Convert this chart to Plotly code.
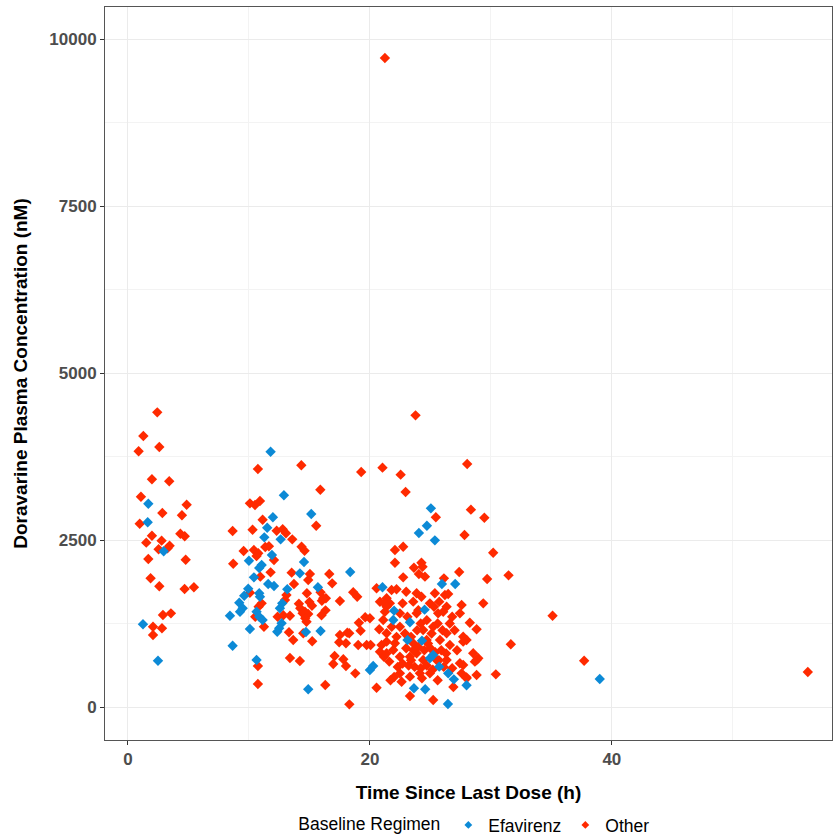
import plotly.graph_objects as go

# Efavirenz (blue) points: time since last dose (h), concentration (nM)
efv_x = [1.68, 1.63, 2.95, 1.24, 2.48,
         11.79, 12.89, 15.15, 11.98, 11.51, 11.27, 12.62, 11.9, 10.0, 11.05, 10.85, 14.55, 14.21, 10.41,
         11.59, 12.07, 15.7, 13.17, 9.94, 10.85, 10.91, 9.61, 12.75, 12.56, 9.2, 9.48, 9.26, 8.43, 10.63,
         10.85, 11.13, 12.7, 12.5, 12.34, 10.08, 14.71, 15.92, 8.65, 10.63, 14.9,
         18.37, 21.04, 22.0, 21.93, 20.0, 20.27,
         25.04, 24.71, 24.05, 25.37, 25.95, 27.05, 24.52, 23.31, 23.11, 24.3, 24.96, 25.23, 25.73, 26.47,
         26.94, 23.64, 24.57, 27.99, 26.45, 39.0]
efv_y = [3043, 2765, 2331, 1238, 693,
         3822, 3169, 2889, 2840, 2684, 2540, 2510, 2275, 2190, 2126, 2081, 2170, 2001, 1941,
         1841, 1811, 1792, 1762, 1771, 1702, 1651, 1666, 1552, 1478, 1561, 1478, 1427, 1367, 1427,
         1352, 1302, 1253, 1178, 1127, 1168, 1123, 1138, 918, 704, 265,
         2021, 1792, 1442, 1302, 554, 614,
         2974, 2714, 2605, 2495, 1841, 1841, 1457, 1268, 1003, 993, 729, 779, 604, 504,
         414, 280, 265, 325, 45, 419]

# Other (red) points
oth_x = [2.42, 1.27, 0.88, 2.59, 1.98, 3.41, 1.07, 4.85, 2.84, 4.46, 0.97, 1.98, 4.33, 4.69, 1.51, 2.78,
         3.44, 2.53, 3.27, 1.68, 4.77, 1.87, 2.59, 4.68, 5.45, 2.89, 3.55, 2.07, 2.81, 2.07,
         10.74, 14.33, 15.9, 10.08, 10.5, 10.91, 15.56, 11.13, 8.65, 10.3, 12.29, 12.79, 13.06, 13.58,
         11.35, 11.65, 9.56, 10.41, 10.77, 10.63, 14.35, 14.6, 8.7, 12.07, 11.79, 13.53, 15.04, 14.9,
         16.64, 10.94, 13.72, 16.88, 10.08, 14.79, 15.92, 16.14, 16.36, 16.03, 17.52, 13.1, 12.98,
         14.13, 15.0, 15.21, 11.05, 10.8, 14.24, 14.44, 14.63, 14.9, 16.33, 16.0, 10.52, 12.37, 12.84,
         13.39, 14.65, 14.76, 11.24, 13.31, 13.66, 14.49, 15.23, 17.52, 18.13, 17.46, 18.02, 13.39,
         14.21, 17.08, 17.8, 16.97, 18.02, 10.74, 10.74, 16.31, 18.3,
         19.28, 21.04, 22.07, 22.07, 18.62, 18.95, 20.55, 21.79, 22.2, 20.83, 21.38, 21.65, 19.61, 20.0,
         19.09, 20.77, 21.1, 19.23, 18.29, 19.03, 19.73, 20.06, 20.96, 21.38, 22.07, 20.83, 21.16,
         21.93, 18.79, 20.55,
         22.54, 28.04, 22.95, 25.45, 28.35, 29.46, 27.82, 22.75, 23.64, 24.26, 24.35, 24.05, 24.55,
         27.38, 22.75, 29.69, 23.0, 26.12, 23.86, 24.26, 25.37, 26.2, 26.47, 21.19, 21.38, 22.7, 23.58,
         24.96, 25.73, 26.34, 27.58, 29.37, 22.48, 21.24, 23.86, 25.64, 26.06, 27.44, 28.26, 28.82,
         21.38, 22.48, 24.4, 25.23, 26.34, 27.71, 23.58, 24.69, 25.79, 26.61, 27.99, 28.54, 21.38,
         22.48, 23.31, 23.86, 24.4, 25.51, 26.34, 27.44, 28.82, 22.48, 23.31, 24.13, 24.96, 27.99,
         28.82, 22.62, 23.31, 25.23,
         23.77, 30.19, 30.41, 31.46, 35.1, 31.65, 37.71, 27.71, 28.96, 28.68, 27.71, 27.58, 27.99,
         21.24, 56.2,
         22.9, 23.4, 23.9, 24.2, 24.7, 25.1, 25.6, 26.0, 23.0, 23.6, 24.0, 24.5, 25.0, 25.4, 25.9, 26.3,
         22.7, 23.2, 23.7, 24.2, 24.7, 25.2, 25.7, 26.1, 26.8, 23.4, 24.8, 22.2, 22.3, 21.6, 21.8, 26.6,
         27.2, 27.0, 23.1, 24.0, 25.3, 26.8, 24.3, 25.6, 26.9, 22.0, 21.7]
oth_y = [4411, 4057, 3828, 3892, 3409, 3379, 3148, 3028, 2904, 2870, 2744, 2564, 2594, 2556, 2460, 2490,
         2415, 2362, 2377, 2216, 2205, 1927, 1807, 1766, 1792, 1377, 1402, 1202, 1178, 1078,
         3563, 3618, 3253, 3049, 3024, 3084, 2714, 2804, 2635, 2654, 2639, 2660, 2600, 2510,
         2395, 2406, 2335, 2350, 2301, 2260, 2400, 2340, 2145, 2200, 2016, 2011, 1991, 1901,
         1991, 1951, 1841, 1851, 1711, 1702, 1717, 1627, 1627, 1591, 1587, 1677, 1602,
         1546, 1572, 1516, 1552, 1502, 1478, 1403, 1427, 1392, 1447, 1373, 1352, 1352, 1373,
         1367, 1328, 1277, 1202, 1118, 1003, 1103, 984, 1078, 1113, 969, 954, 734,
         689, 764, 714, 644, 614, 614, 344, 329, 40,
         3518, 3583, 2350, 2160, 1717, 1651, 1777, 1751, 1762, 1576, 1627, 1552, 1343, 1328,
         1262, 1163, 1302, 1142, 1103, 928, 928, 928, 928, 978, 954, 828, 753,
         853, 504, 289,
         3478, 3638, 3219, 2840, 2954, 2834, 2575, 2400, 2085, 2160, 2100, 1991, 1951,
         2021, 1941, 1916, 1726, 1926, 1702, 1651, 1702, 1677, 1692, 1552, 1502, 1552, 1577,
         1552, 1577, 1502, 1527, 1552, 1402, 1427, 1402, 1402, 1427, 1402, 1262, 1163,
         1103, 1202, 1153, 1202, 1103, 1053, 954, 1003, 1003, 928, 1003, 804, 804,
         753, 753, 804, 704, 704, 704, 654, 704, 504, 454, 504, 504, 444,
         479, 379, 165, 105,
         4366, 2310, 489, 1971, 1367, 939, 693, 978, 729, 679, 629, 504, 429,
         9715, 524,
         1100, 1050, 1150, 1250, 1300, 1100, 1250, 1150, 880, 850, 900, 850, 880, 820, 850, 800,
         650, 620, 600, 580, 620, 560, 700, 600, 580, 700, 950, 1050, 600, 680, 1200, 1250,
         850, 1150, 1350, 1450, 1500, 1350, 430, 400, 300, 450, 400]

x_ticks = [0, 20, 40]
y_ticks = [0, 2500, 5000, 7500, 10000]
y_tick_labels = ["0", "2500", "5000", "7500", "10000"]

BLUE = "#0c8ad6"
RED = "#ff2a00"
FONT = "Liberation Sans"

fig = go.Figure()
fig.add_trace(go.Scatter(x=oth_x, y=oth_y, mode="markers", name="Other", showlegend=False,
                         marker=dict(symbol="diamond", size=8, color=RED, line=dict(width=0))))
fig.add_trace(go.Scatter(x=efv_x, y=efv_y, mode="markers", name="Efavirenz", showlegend=False,
                         marker=dict(symbol="diamond", size=8, color=BLUE, line=dict(width=0))))
# legend-only entries with smaller key symbols
fig.add_trace(go.Scatter(x=[None], y=[None], mode="markers", name="Efavirenz", legendrank=1,
                         marker=dict(symbol="diamond", size=6, color=BLUE, line=dict(width=0))))
fig.add_trace(go.Scatter(x=[None], y=[None], mode="markers", name="Other", legendrank=2,
                         marker=dict(symbol="diamond", size=6, color=RED, line=dict(width=0))))

axis_common = dict(
    showline=True, mirror=True, linecolor="#555555", linewidth=1,
    showgrid=True, gridcolor="#ebebeb", gridwidth=1,
    ticks="outside", ticklen=4, tickcolor="#333333", tickwidth=1,
    tickfont=dict(family=FONT, size=17, color="#4d4d4d", weight="bold"),
    zeroline=False, automargin=False,
)

fig.update_xaxes(
    range=[-1.9, 58.2], tickvals=x_ticks,
    minor=dict(dtick=10, tick0=0, showgrid=True, gridcolor="#f3f3f3", gridwidth=0.6, ticks=""),
    title=dict(text="Time Since Last Dose (h)", standoff=17,
               font=dict(family=FONT, size=19, color="black", weight="bold")),
    **axis_common,
)
fig.update_yaxes(
    range=[-494, 10479], tickvals=y_ticks, ticktext=y_tick_labels,
    minor=dict(dtick=1250, tick0=0, showgrid=True, gridcolor="#f3f3f3", gridwidth=0.6, ticks=""),
    title=dict(text="Doravarine Plasma Concentration (nM)", standoff=16,
               font=dict(family=FONT, size=19, color="black", weight="bold")),
    **axis_common,
)

fig.update_layout(
    width=833, height=837,
    margin=dict(l=105, r=1, t=7, b=97, autoexpand=False),
    plot_bgcolor="white", paper_bgcolor="white",
    showlegend=True,
    legend=dict(
        orientation="h", xref="container", yref="container",
        x=0.588, xanchor="center", y=0.0143, yanchor="middle",
        entrywidth=72, entrywidthmode="pixels",
        title=dict(text="Baseline Regimen", side="left",
                   font=dict(family=FONT, size=17.5, color="black")),
        font=dict(family=FONT, size=17.5, color="black"),
    ),
)

post_js = (
    "document.body.style.margin='0';"
    "document.body.style.overflow='hidden';"
    "var gd=document.getElementById('{plot_id}');"
    "Plotly.relayout(gd,{width:833,height:837});"
)

fig.write_html("out.html", post_script=post_js, config={"displayModeBar": False})
